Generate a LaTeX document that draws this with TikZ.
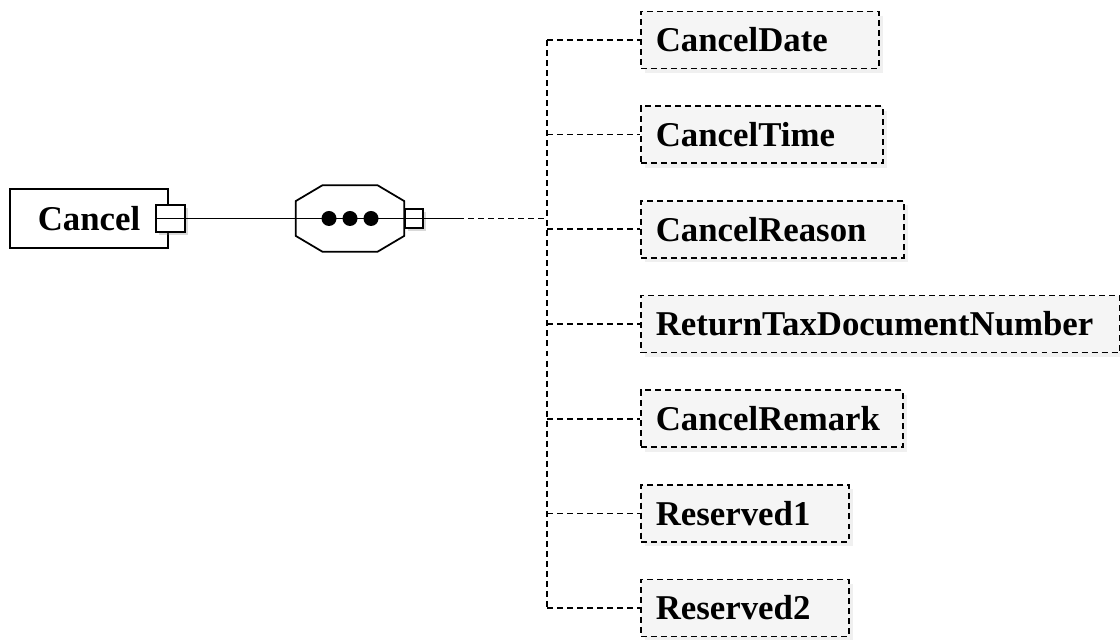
\documentclass[tikz,border=0pt]{standalone}
\usepackage{fontspec}
\setmainfont{Liberation Serif}
\usetikzlibrary{calc, positioning, shadows}

\begin{document}
\begin{tikzpicture}[
    font=\fontsize{19.8}{24}\selectfont\bfseries,
    elembox/.style={draw, line width=1pt, fill=white, minimum width=3.16cm, minimum height=1.18cm, inner sep=0pt},
    leafbox/.style={draw, dash pattern=on 3.4pt off 2.3pt, line width=0.95pt, fill=black!4, minimum height=1.14cm, inner xsep=0.3cm, inner ysep=0pt, align=left, anchor=west,
        drop shadow={shadow xshift=2.5pt, shadow yshift=-2.5pt, opacity=0.12}},
    dashlink/.style={dash pattern=on 3.4pt off 2.3pt, line width=0.95pt},
    plug/.style={draw, line width=1.2pt, fill=white, inner sep=0pt,
        drop shadow={shadow xshift=1.5pt, shadow yshift=-1.5pt, opacity=0.3}},
]
    \useasboundingbox (0,0) rectangle (22.4,-12.8);

    % Element
    \node[elembox] (cancel) at (1.78,-4.37) {Cancel};
    \node[plug, minimum width=0.58cm, minimum height=0.54cm] (cplug) at ($(cancel.east)+(0.03,0)$) {};

    % Sequence compositor
    \node[minimum width=2.16cm, minimum height=1.32cm, inner sep=0pt] (seq) at (7.0,-4.37) {};
    \draw[line width=1pt, fill=white] ($(seq.north west)+(0.54,0)$) -- ($(seq.north east)+(-0.54,0)$)
        -- ($(seq.north east)+(0,-0.32)$) -- ($(seq.south east)+(0,0.32)$)
        -- ($(seq.south east)+(-0.54,0)$) -- ($(seq.south west)+(0.54,0)$)
        -- ($(seq.south west)+(0,0.32)$) -- ($(seq.north west)+(0,-0.32)$) -- cycle;
    \node[plug, minimum width=0.36cm, minimum height=0.38cm, anchor=west] (splug) at (seq.east) {};

    % Lines
    \coordinate (mid) at (9.16,-4.37);
    \coordinate (fork) at (10.94,-4.37);
    \draw[line width=1.1pt] (cplug.west) -- (mid);
    \draw[dashlink] (mid) -- (fork);
    \foreach \x in {6.58,7.0,7.42}
        \fill (\x,-4.37) circle (0.15);

    % Children
    \node[leafbox, text width=4.16cm] (cdate) at (12.8,-0.8) {CancelDate};
    \node[leafbox, text width=4.24cm, below=0.72cm of cdate.south west, anchor=north west] (ctime) {CancelTime};
    \node[leafbox, text width=4.66cm, below=0.72cm of ctime.south west, anchor=north west] (creason) {CancelReason};
    \node[leafbox, text width=8.98cm, below=0.72cm of creason.south west, anchor=north west] (rtdn) {\mbox{ReturnTaxDocumentNumber}};
    \node[leafbox, text width=4.64cm, below=0.72cm of rtdn.south west, anchor=north west] (cremark) {CancelRemark};
    \node[leafbox, text width=3.56cm, below=0.72cm of cremark.south west, anchor=north west] (rsv1) {Reserved1};
    \node[leafbox, text width=3.56cm, below=0.72cm of rsv1.south west, anchor=north west] (rsv2) {Reserved2};

    % Tree connectors
    \draw[dashlink] (fork |- cdate.west) -- (fork |- rsv2.west);
    \draw[dashlink] (fork |- cdate.west) -- (cdate.west);
    \draw[dashlink] (fork |- ctime.west) -- (ctime.west);
    \draw[dashlink] (fork |- creason.west) -- (creason.west);
    \draw[dashlink] (fork |- rtdn.west) -- (rtdn.west);
    \draw[dashlink] (fork |- cremark.west) -- (cremark.west);
    \draw[dashlink] (fork |- rsv1.west) -- (rsv1.west);
    \draw[dashlink] (fork |- rsv2.west) -- (rsv2.west);
\end{tikzpicture}
\end{document}
